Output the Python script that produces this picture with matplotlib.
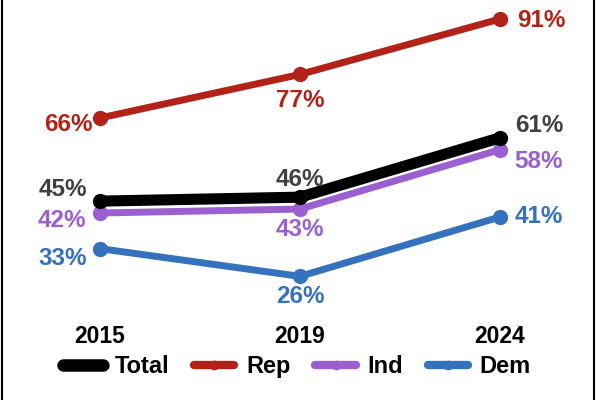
import matplotlib.pyplot as plt
from matplotlib.lines import Line2D

plt.rcParams["font.family"] = ["Liberation Sans", "DejaVu Sans"]
plt.rcParams["font.weight"] = "bold"

years = ["2015", "2019", "2024"]
total = [45, 46, 61]
rep = [66, 77, 91]
ind = [42, 43, 58]
dem = [33, 26, 41]

# (name, values, line colour, label colour, line width, label offsets in pixels)
series = [
    ("Total", total, "#000000", "#404040", 8, [(-37, 12), (0, 18), (39, 12)]),
    ("Rep", rep, "#B22219", "#B22219", 5, [(-32, -7), (0, -26), (41, -1)]),
    ("Ind", ind, "#9B5FCF", "#9B5FCF", 5, [(-38, -7), (0, -20), (39, -12)]),
    ("Dem", dem, "#3572BE", "#3572BE", 5, [(-37, -10), (0, -20), (39, 0)]),
]

fig = plt.figure(figsize=(6, 4), dpi=100)
ax = fig.add_axes([0, 0.225, 1, 0.775])
x = list(range(len(years)))

handles = []
# draw in reverse so Total sits on top
for name, vals, col, lcol, lw, offs in series[::-1]:
    ax.plot(x, vals, color=col, lw=lw, marker="o", ms=10, solid_capstyle="round", zorder=3)
    for xi, v, (dx, dy) in zip(x, vals, offs):
        ax.annotate(f"{v}%", (xi, v), xytext=(dx, dy), textcoords="offset pixels",
                    ha="center", va="center", fontsize=17.5, fontweight="bold", color=lcol)

for name, vals, col, lcol, lw, offs in series:
    handles.append(Line2D([], [], color=col, lw=lw + 1, marker="o", ms=6,
                          solid_capstyle="round", label=name))

ax.set_xlim(-0.5, 2.5)
ax.set_ylim(17.5, 95.8)
ax.set_xticks(x)
ax.set_xticklabels(years, fontsize=16.5, fontweight="bold")
ax.tick_params(axis="x", length=0, pad=11)
ax.set_yticks([])
for s in ax.spines.values():
    s.set_visible(False)

fig.legend(handles=handles, loc="center", bbox_to_anchor=(0.495, 0.083), ncol=4,
           frameon=False, fontsize=17, handlelength=1.7, handletextpad=0.5,
           columnspacing=1.05)

# thin frame lines at the left and right edges
fig.add_artist(Line2D([0.003, 0.003], [0, 1], color="black", lw=1.5, transform=fig.transFigure))
fig.add_artist(Line2D([0.99, 0.99], [0, 1], color="black", lw=1.5, transform=fig.transFigure))

fig.savefig("out.png", dpi=100)
